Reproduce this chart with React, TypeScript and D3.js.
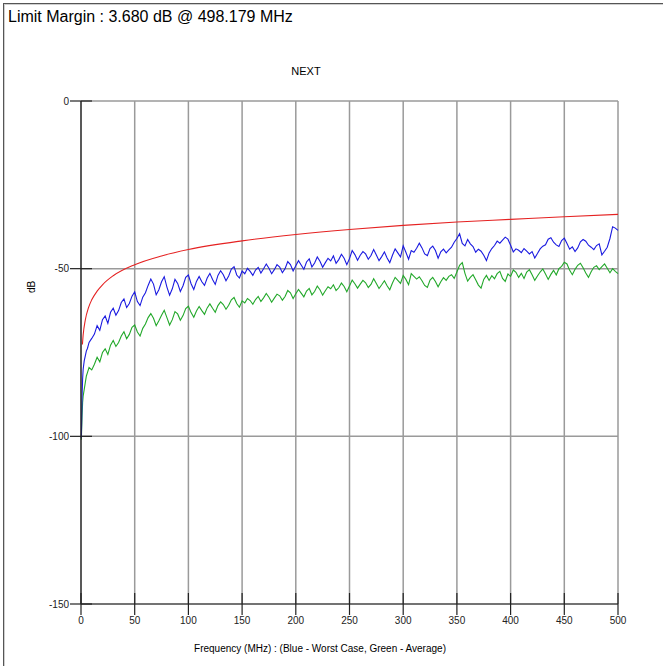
import React from "react";
import * as d3 from "d3";

const titleText = "Limit Margin : 3.680 dB @ 498.179 MHz";
const chartTitle = "NEXT";
const xAxisLabel = "Frequency (MHz) : (Blue - Worst Case, Green - Average)";
const yAxisLabel = "dB";

const xTicks = [0, 50, 100, 150, 200, 250, 300, 350, 400, 450, 500];
const yTicks = [0, -50, -100, -150];

// Limit line
const limitFreq = [1.3, 2, 4, 7, 10, 15, 20, 30, 50, 75, 100, 150, 200, 250, 300, 350, 400, 450, 500];
const limitDb = [-72.6, -69.8, -65.3, -61.6, -59.3, -56.7, -54.8, -52.1, -48.8, -46.2, -44.3, -41.7, -39.8, -38.3, -37.1, -36.1, -35.3, -34.5, -33.8];

// Low-frequency section
const lowFreq = [0.3, 0.6, 1, 1.5, 2, 3, 4, 5, 6, 7.5];
const blueLow = [-100.5, -96, -88, -83, -80, -77.5, -76, -74.5, -73.8, -72];
const greenLow = [-101, -98, -94, -90, -88, -86, -84, -82, -81, -79.5];

// Main section: 10 MHz to 500 MHz, 2.5 MHz step
const mainStartMHz = 10;
const mainStepMHz = 2.5;

const blueMain = [
  -70.8, -69.5, -67.0, -68.4, -65.2, -64.1, -66.3, -63.0, -61.8, -63.9,
  -62.5, -60.1, -59.0, -61.6, -60.4, -58.2, -56.9, -59.8, -61.0, -58.5,
  -57.2, -55.0, -53.1, -54.6, -57.8, -56.3, -53.9, -52.4, -55.5, -57.9,
  -56.0, -53.2, -54.4, -56.8, -55.1, -52.6, -51.9, -54.5, -56.2, -53.8,
  -52.3, -53.9, -55.0, -52.8, -51.4, -53.2, -54.7, -52.0, -50.6, -51.8,
  -53.6, -52.2, -50.1, -49.4, -51.9, -52.8, -50.7, -51.5, -49.9, -50.8,
  -52.0, -50.4, -49.6, -51.3, -50.0, -48.6, -49.9, -51.5, -50.3, -48.8,
  -49.5, -51.2, -50.0, -47.9, -48.8, -50.7, -49.1, -47.6, -48.9, -50.2,
  -48.0, -47.1, -49.5, -48.3, -46.5, -47.8, -49.6, -48.2, -46.9, -47.7,
  -46.2, -48.4, -47.3, -45.7, -46.9, -48.8, -47.0, -44.6, -45.8, -47.5,
  -46.0, -44.9, -45.6, -47.2, -46.1, -44.3, -45.9, -47.6, -46.4, -45.0,
  -46.8, -48.2, -46.0, -44.1, -45.3, -46.5, -43.2, -45.1, -47.2, -44.6,
  -45.1, -43.9, -42.4, -43.8, -45.6, -46.1, -44.0, -43.3, -44.6, -46.9,
  -45.0, -44.2, -45.3, -44.4, -43.6, -42.1, -41.0, -39.6, -42.5, -43.2,
  -41.3, -42.6, -43.4, -45.1, -44.2, -44.8, -46.0, -47.6, -45.3, -44.0,
  -43.1, -41.8, -42.4, -41.5, -40.6, -41.2, -43.0, -45.0, -44.1, -44.5,
  -45.2, -44.0, -44.8, -45.6, -44.9, -46.8, -45.5, -44.1, -43.3, -42.9,
  -41.2, -40.8, -42.1, -42.9, -43.4, -41.6, -40.9, -42.5, -44.2, -43.5,
  -44.9, -43.8, -42.0, -41.3, -41.8, -43.0, -43.6, -44.3, -43.1, -42.6,
  -45.9, -44.8, -43.6, -41.0, -37.5, -37.9, -38.6,
];

const greenMain = [
  -80.2, -78.5, -76.4, -77.8, -75.0, -73.9, -75.6, -72.8, -71.4, -73.2,
  -72.0, -70.1, -68.8, -70.9, -69.6, -67.5, -66.8, -68.9, -70.1, -67.8,
  -66.5, -64.6, -63.4, -64.8, -67.0, -65.5, -63.9, -62.4, -64.6, -66.8,
  -65.2, -62.8, -63.5, -65.4, -64.0, -61.9, -61.2, -63.1, -64.5, -62.6,
  -61.3, -62.5, -63.6, -61.7, -60.5, -61.8, -63.0, -61.0, -59.9, -60.7,
  -62.1, -60.9, -59.3, -58.6, -60.4, -61.5, -59.6, -60.2, -58.9, -59.5,
  -60.6, -59.2, -58.3, -59.8, -58.7, -57.4, -58.5, -60.0, -58.8, -57.6,
  -58.1, -59.4, -58.3, -56.5, -57.2, -58.9, -57.5, -56.2, -57.3, -58.4,
  -56.7, -55.9, -57.8, -56.8, -55.2, -56.3, -57.9, -56.6, -55.4, -56.0,
  -54.8, -56.5, -55.7, -54.3, -55.3, -56.9, -55.2, -53.4, -54.5, -55.8,
  -54.6, -53.5, -54.2, -55.6, -54.7, -53.0, -54.4, -55.9, -54.8, -53.6,
  -55.1, -56.3, -54.3, -52.6, -53.5, -54.4, -52.0, -53.2, -54.8, -51.5,
  -52.3, -53.1, -52.4, -53.6, -55.0, -55.6, -53.4, -52.6, -53.8, -55.4,
  -53.9, -52.7, -53.5, -52.3, -51.8, -52.9, -51.0, -49.0, -48.2, -51.4,
  -53.7, -52.6, -51.8, -53.3, -54.9, -55.8, -53.2, -52.0, -53.5, -52.1,
  -53.0, -51.5, -50.8, -52.9, -53.8, -51.6, -52.3, -50.4, -51.1, -52.6,
  -51.4, -52.9, -51.0, -50.3, -51.8, -53.5, -52.2, -51.0, -50.1, -51.6,
  -53.2, -51.7, -50.5, -51.9, -50.0, -49.3, -48.1, -48.6, -50.5, -51.8,
  -50.2, -49.0, -48.4, -49.7, -51.3, -52.6, -50.9, -49.6, -49.1, -50.3,
  -49.4, -48.6, -49.9, -51.2, -50.0, -50.8, -51.5,
];

const W = 663;
const H = 666;
const plot = { left: 81, right: 618, top: 101, bottom: 604 };
const FONT = "'Liberation Sans', Arial, sans-serif";

type Pt = [number, number];

function buildSeries(low: number[], main: number[]): Pt[] {
  const pts: Pt[] = low.map((v, i) => [lowFreq[i], v]);
  main.forEach((v, i) => pts.push([mainStartMHz + i * mainStepMHz, v]));
  return pts;
}

export default function App() {
  const x = d3.scaleLinear().domain([0, 500]).range([plot.left, plot.right]);
  const y = d3.scaleLinear().domain([-150, 0]).range([plot.bottom, plot.top]);

  const line = d3
    .line<Pt>()
    .x((d) => x(d[0]))
    .y((d) => y(d[1]));
  const smooth = d3
    .line<Pt>()
    .x((d) => x(d[0]))
    .y((d) => y(d[1]))
    .curve(d3.curveMonotoneX);

  const blue = buildSeries(blueLow, blueMain);
  const green = buildSeries(greenLow, greenMain);
  const limit: Pt[] = limitFreq.map((f, i) => [f, limitDb[i]]);

  const gridColor = "#9a9a9a";

  return (
    <svg
      width={W}
      height={H}
      style={{ position: "absolute", left: 0, top: 0, background: "#fff" }}
    >
      {/* outer frame */}
      <line x1={3.5} y1={3} x2={3.5} y2={H} stroke="#555" strokeWidth={1} />
      <line x1={4.5} y1={4} x2={4.5} y2={H} stroke="#cfcfcf" strokeWidth={1} />
      <line x1={3} y1={3.5} x2={W} y2={3.5} stroke="#555" strokeWidth={1} />
      <line x1={4} y1={4.5} x2={W} y2={4.5} stroke="#cfcfcf" strokeWidth={1} />

      <text x={8} y={22} fontFamily={FONT} fontSize={16} fill="#000">
        {titleText}
      </text>

      <text x={306} y={75} fontFamily={FONT} fontSize={11} textAnchor="middle" fill="#000">
        {chartTitle}
      </text>

      {/* vertical grid */}
      {xTicks.slice(1).map((t) => (
        <line
          key={"vg" + t}
          x1={x(t)}
          x2={x(t)}
          y1={plot.top}
          y2={plot.bottom}
          stroke={gridColor}
          strokeWidth={1.5}
        />
      ))}
      {/* horizontal grid */}
      {yTicks.slice(0, 3).map((t) => (
        <line
          key={"hg" + t}
          x1={plot.left}
          x2={plot.right}
          y1={y(t)}
          y2={y(t)}
          stroke={gridColor}
          strokeWidth={1.5}
        />
      ))}

      {/* series */}
      <path d={line(green) || ""} fill="none" stroke="#22a82a" strokeWidth={1.1} />
      <path d={line(blue) || ""} fill="none" stroke="#1a1ae0" strokeWidth={1.1} />
      <path d={smooth(limit) || ""} fill="none" stroke="#e52222" strokeWidth={1.1} />

      {/* axes */}
      <line x1={plot.left} x2={plot.left} y1={plot.top} y2={plot.bottom} stroke="#222" strokeWidth={1.5} />
      <line x1={plot.left} x2={plot.right} y1={plot.bottom} y2={plot.bottom} stroke="#444" strokeWidth={1.5} />

      {/* x ticks */}
      {xTicks.map((t) => (
        <g key={"xt" + t}>
          <line x1={x(t)} x2={x(t)} y1={plot.bottom - 11} y2={plot.bottom + 11} stroke="#222" strokeWidth={1.2} />
          <text x={x(t)} y={624} fontFamily={FONT} fontSize={10} textAnchor="middle" fill="#222">
            {t}
          </text>
        </g>
      ))}
      {/* y ticks */}
      {yTicks.map((t) => (
        <g key={"yt" + t}>
          <line x1={plot.left - 11} x2={plot.left + 11} y1={y(t)} y2={y(t)} stroke="#222" strokeWidth={1.2} />
          <text
            x={69}
            y={y(t)}
            dy="0.35em"
            fontFamily={FONT}
            fontSize={10}
            textAnchor="end"
            fill="#222"
          >
            {t}
          </text>
        </g>
      ))}

      <text
        transform={`translate(35,${287}) rotate(-90)`}
        fontFamily={FONT}
        fontSize={10}
        textAnchor="middle"
        fill="#000"
      >
        {yAxisLabel}
      </text>

      <text x={320} y={652} fontFamily={FONT} fontSize={10} textAnchor="middle" fill="#000">
        {xAxisLabel}
      </text>
    </svg>
  );
}
